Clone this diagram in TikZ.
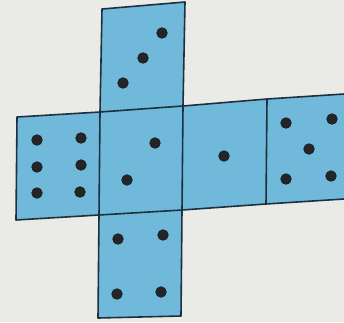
\documentclass[tikz,border=0pt]{standalone}
\definecolor{bgc}{RGB}{234,234,231}
\definecolor{facec}{RGB}{112,185,219}
\definecolor{edgec}{RGB}{30,48,62}
\definecolor{pipc}{RGB}{38,36,36}
\begin{document}
\begin{tikzpicture}[x=1pt,y=-1pt,
  edge/.style={draw=edgec,line width=1.6pt,line join=round},
  pip/.style={circle,fill=pipc,draw=edgec!70!black,line width=0.8pt,inner sep=0pt,minimum size=10.5pt}]
\fill[bgc] (0,0) rectangle (344,322);
\useasboundingbox (0,0) rectangle (344,322);
% coordinates
\coordinate (T1) at (102,9);   \coordinate (T2) at (185,2);
\coordinate (S1) at (17,117);  \coordinate (S2) at (100,112); \coordinate (S3) at (183,106);
\coordinate (S4) at (267,99);  \coordinate (S5) at (344,94);
\coordinate (B1) at (16,220);  \coordinate (B2) at (99,215);  \coordinate (B3) at (182,210);
\coordinate (B4) at (266,204); \coordinate (B5) at (344,199);
\coordinate (D1) at (98,318);  \coordinate (D2) at (181,316);
% fill
\fill[facec] (T1) -- (T2) -- (S3) -- (S4) -- (S5) -- (B5) -- (B4) -- (B3) -- (D2) -- (D1) -- (B2) -- (B1) -- (S1) -- (S2) -- cycle;
% edges
\draw[edge] (T1) -- (T2) -- (S3) -- (B3) -- (D2) -- (D1) -- (B2) -- (S2) -- cycle;
\draw[edge] (S5) -- (S4) -- (S3) -- (S2) -- (S1) -- (B1) -- (B2) -- (B3) -- (B4) -- (B5);
\draw[edge] (S4) -- (B4);
% pips: top face (3)
\node[pip] (p31) at (162,33) {};
\node[pip] (p32) at (143,58) {};
\node[pip] (p33) at (123,83) {};
% left face (6)
\node[pip] (p61) at (37,140) {};
\node[pip] (p62) at (37,167) {};
\node[pip] (p63) at (37,193) {};
\node[pip] (p64) at (81,138) {};
\node[pip] (p65) at (81,165) {};
\node[pip] (p66) at (80,192) {};
% centre face (2)
\node[pip] (p21) at (155,143) {};
\node[pip] (p22) at (127,180) {};
% face (1)
\node[pip] (p11) at (224,156) {};
% right face (5)
\node[pip] (p51) at (286,123) {};
\node[pip] (p52) at (332,119) {};
\node[pip] (p53) at (309,149) {};
\node[pip] (p54) at (286,179) {};
\node[pip] (p55) at (331,176) {};
% bottom face (4)
\node[pip] (p41) at (118,239) {};
\node[pip] (p42) at (163,235) {};
\node[pip] (p43) at (117,294) {};
\node[pip] (p44) at (161,292) {};
\end{tikzpicture}
\end{document}
